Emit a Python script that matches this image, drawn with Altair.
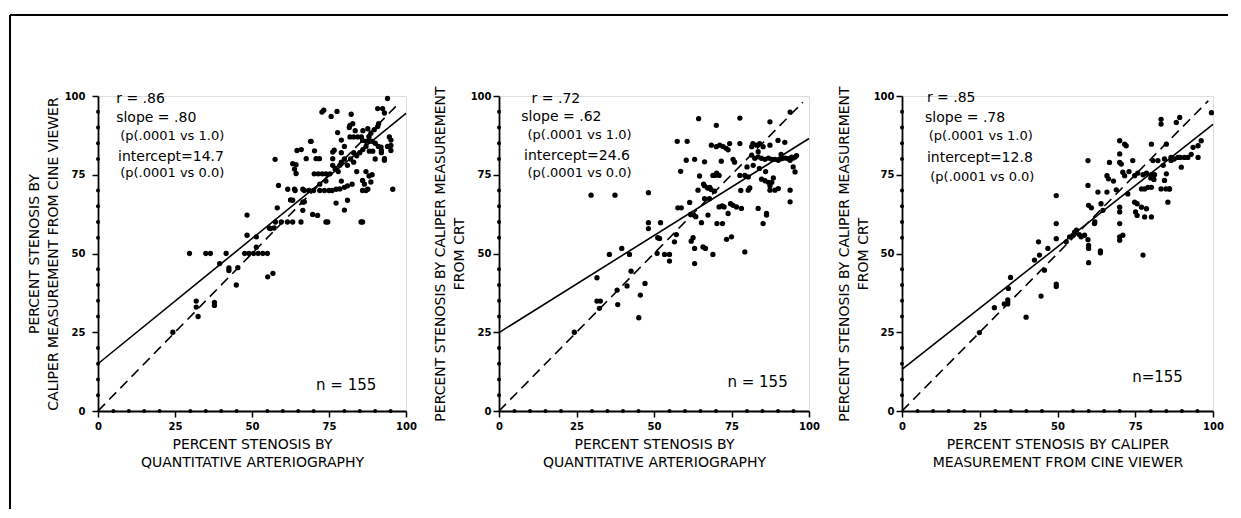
import altair as alt
import pandas as pd

# ---------------- data ----------------
# Panel 1: QCA (x) vs caliper from cine viewer (y)
x1 = [24.3, 31.9, 31.9, 32.5, 37.8, 37.8,
      29.7, 35.0, 36.5, 41.6, 47.6, 49.0, 50.5, 52.0, 53.5, 55.0,
      39.5, 42.5, 42.5, 45.4, 44.9, 48.4, 48.4, 51.4, 51.4, 55.1, 56.8, 55.6, 57.2, 56.0,
      57.5, 58.2, 58.6, 57.6, 59.5, 61.5, 63.2, 65.9, 74.0, 85.9,
      61.6, 63.8, 62.5, 63.2, 66.5, 64.3, 63.8, 64.3, 63.2, 64.6,
      66.5, 67.0, 66.5, 67.6, 69.0, 69.7, 70.8, 71.9, 70.3, 76.7,
      70.2, 71.5, 72.8, 74.0, 75.3,
      64.0, 67.0, 68.5, 70.0, 72.0, 73.5, 75.0, 76.0, 77.3, 78.5, 80.0, 81.0, 82.5,
      73.3, 75.7, 77.6, 72.7, 77.8, 74.6, 76.2, 76.2, 76.2, 77.0, 78.0, 78.5,
      80.0, 81.0, 77.3, 82.2, 82.7, 81.6, 81.8, 81.8, 83.0, 84.3, 85.5,
      80.0, 82.0, 84.0, 85.0, 86.0, 87.0, 83.0, 81.0, 79.0,
      85.4, 85.9, 87.0, 86.5, 85.9, 88.6, 87.6, 88.0, 84.0, 87.0, 89.0,
      87.0, 88.0, 89.0, 90.0, 88.1, 89.2, 91.0, 92.0,
      88.6, 89.7, 90.8, 90.8, 92.4, 94.0, 93.0, 91.1,
      93.0, 92.0, 94.6, 95.1, 95.1, 95.1, 94.0, 95.7, 91.9, 93.0, 90.0,
      83.5, 86.0, 87.6, 85.9, 88.0, 71.3, 72.0, 74.0, 79.0, 69.2, 66.0, 79.0, 80.0, 79.0, 83.0]
y1 = [25.0, 34.9, 33.0, 30.0, 34.5, 33.5,
      50.0, 50.0, 50.0, 50.0, 50.0, 50.0, 50.0, 50.0, 50.0, 50.0,
      46.8, 45.4, 44.6, 45.5, 40.0, 62.2, 55.8, 55.3, 52.0, 42.6, 43.7, 58.1, 58.1, 57.9,
      79.9, 64.5, 71.6, 60.0, 60.0, 60.0, 60.0, 60.0, 60.0, 60.0,
      70.4, 70.4, 67.0, 66.9, 66.3, 78.2, 76.8, 75.4, 78.5, 82.7,
      63.7, 66.4, 70.4, 80.1, 85.6, 62.4, 80.1, 80.1, 82.6, 82.8,
      75.3, 75.3, 75.3, 75.3, 75.3,
      70.0, 70.0, 70.0, 70.0, 70.0, 70.0, 70.0, 70.0, 70.4, 70.5, 71.0, 71.5, 72.0,
      95.5, 93.5, 95.1, 94.9, 88.4, 60.0, 82.2, 80.1, 78.0, 77.0, 76.0, 78.0,
      63.8, 66.9, 66.0, 94.2, 91.2, 90.0, 90.7, 87.0, 87.0, 87.0, 87.0,
      80.0, 80.0, 81.0, 82.0, 83.0, 84.0, 79.0, 78.0, 79.0,
      60.0, 70.0, 70.0, 72.0, 73.2, 72.7, 70.4, 74.6, 76.0, 76.0, 75.0,
      85.6, 85.6, 85.6, 85.0, 82.5, 82.5, 84.0, 82.0,
      88.2, 89.3, 90.3, 96.0, 96.0, 99.2, 94.6, 91.2,
      80.1, 82.7, 87.0, 86.0, 84.3, 82.7, 84.0, 70.4, 83.8, 79.6, 80.0,
      89.0, 89.0, 89.6, 85.9, 87.0, 62.1, 72.0, 73.0, 73.0, 85.6, 83.0, 82.0, 84.0, 86.0, 82.0]

# Panel 2: QCA (x) vs caliper from CRT (y)
x2 = [24.3, 29.7, 37.4, 48.2, 31.6, 31.6, 32.7, 32.4, 35.6, 38.3, 38.1, 39.6, 42.1, 41.3, 42.6,
      45.1, 45.6, 47.1, 48.2, 48.2, 51.2, 51.8, 52.1, 51.0, 53.4, 55.0, 55.0, 56.6, 57.2,
      57.5, 58.6, 57.7, 58.8, 60.7, 60.4, 63.1, 61.5, 61.8, 62.8, 63.5, 62.6, 62.0, 63.1, 63.1,
      64.4, 64.7, 64.2, 65.3, 65.8, 66.6, 66.3, 66.3, 67.3, 68.4, 69.5, 66.3, 67.9, 67.4, 69.0,
      69.0, 69.6, 70.1, 68.5, 70.1, 71.2, 72.3, 73.3, 73.9, 71.7, 71.0, 72.0, 72.6, 70.3, 72.1,
      73.4, 75.5, 76.0, 74.4, 75.0, 73.9, 74.7, 75.5, 76.6, 77.7, 77.7, 77.7, 79.3, 80.4, 78.2,
      79.3, 80.4,
      81.5, 82.5, 83.6, 84.7, 85.8, 86.9, 88.0, 89.0, 90.1, 91.2, 92.3, 93.3, 94.9, 95.5,
      81.5, 83.1, 85.2, 83.6, 81.9, 84.1,
      83.6, 84.7, 85.8, 86.9, 88.0, 87.4, 85.2, 86.3, 86.3, 87.4, 87.4, 87.4, 89.0, 90.1,
      90.0, 92.2, 93.9, 93.9, 93.9, 95.5, 94.9, 93.9, 94.4, 96.0,
      78.0, 80.9, 70.2, 71.0, 66.0, 68.0, 82.0, 84.0, 86.0, 88.5, 91.0, 80.0]
y2 = [25.0, 68.5, 68.5, 69.3, 42.3, 34.9, 34.9, 32.6, 49.7, 33.8, 38.4, 51.6, 49.7, 39.7, 44.4,
      29.6, 36.8, 40.5, 59.8, 57.9, 55.0, 54.8, 59.8, 50.0, 49.7, 49.7, 47.6, 53.7, 56.0,
      85.6, 76.1, 64.5, 64.5, 85.6, 79.6, 79.9, 66.2, 62.4, 62.2, 61.7, 55.0, 53.9, 51.6, 46.8,
      92.8, 74.6, 70.1, 59.8, 52.1, 51.6, 79.1, 71.5, 70.8, 70.3, 69.8, 67.4, 67.4, 62.2, 49.7,
      74.8, 74.8, 90.7, 84.4, 83.9, 84.4, 83.9, 83.4, 82.9, 79.3, 64.8, 65.1, 64.8, 59.5, 59.5,
      54.5, 79.9, 79.0, 84.9, 55.3, 62.7, 65.8, 65.3, 64.8, 93.0, 84.9, 74.8, 74.8, 74.3, 64.3,
      50.5, 70.1,
      81.2, 80.2, 80.7, 80.2, 79.9, 80.3, 79.9, 79.9, 79.6, 80.1, 80.3, 80.1, 80.3, 80.6,
      83.9, 84.4, 83.9, 82.3, 84.9, 84.9,
      64.3, 73.6, 73.1, 72.6, 72.6, 71.5, 59.5, 62.7, 62.2, 70.1, 91.8, 84.4, 70.1, 70.6,
      85.9, 85.3, 94.9, 70.1, 66.4, 75.9, 77.5, 79.6, 80.6, 81.1,
      70.0, 70.8, 75.5, 74.8, 72.0, 71.0, 78.0, 77.0, 76.0, 74.0, 81.5, 77.5]

# Panel 3: caliper from cine viewer (x) vs caliper from CRT (y)
x3 = [24.9, 29.7, 32.9, 34.0, 34.0, 34.9, 34.2, 39.9, 42.6, 43.9, 44.2, 45.8, 46.9, 44.7,
      49.6, 49.6, 49.6, 49.6, 49.6, 52.8, 53.9, 55.0, 55.5, 56.1, 57.6, 58.7,
      59.8, 59.8, 60.0, 60.9, 59.8, 60.0, 60.0, 60.0, 61.9, 63.0, 63.8, 63.8, 64.0, 64.6,
      65.9, 66.4, 65.9, 66.7, 68.9, 70.0, 70.0, 70.0, 70.5, 70.0, 70.0, 70.0, 70.0, 70.0,
      71.0, 71.6, 72.1, 71.0, 71.6, 72.6, 74.2,
      74.8, 75.8, 77.5, 78.6, 80.2, 81.2,
      74.8, 75.6, 75.1, 75.6, 77.5,
      77.0, 78.0, 79.1, 80.2,
      77.0, 78.6, 78.0, 80.2, 80.2, 80.7, 83.3, 83.3, 85.0,
      82.3, 84.4, 86.5, 88.7, 90.8, 86.5, 87.5, 89.5,
      85.0, 84.4, 83.3, 84.9, 86.0, 85.5, 88.2, 89.3, 89.8, 91.9, 93.0, 93.6, 95.2, 96.2,
      95.2, 99.5, 80.0, 81.0, 84.0, 86.0, 73.0, 68.0, 62.0, 57.0]
y3 = [24.9, 32.8, 34.0, 35.3, 34.0, 42.4, 38.9, 29.8, 47.9, 53.7, 49.5, 44.7, 51.6, 36.5,
      54.7, 59.5, 68.4, 40.3, 39.5, 53.7, 55.3, 55.8, 56.8, 57.4, 55.3, 55.8,
      79.5, 71.6, 65.3, 64.5, 54.4, 52.6, 51.6, 47.1, 59.5, 69.5, 50.8, 50.2, 65.8, 63.7,
      74.7, 73.7, 69.5, 78.9, 70.2, 85.8, 81.6, 78.9, 78.4, 64.7, 63.2, 59.5, 55.3, 54.2,
      55.8, 84.7, 84.2, 75.8, 74.7, 68.9, 79.5,
      74.7, 75.5, 75.0, 75.5, 75.0, 75.0,
      66.3, 65.8, 63.2, 62.1, 49.5,
      70.5, 70.5, 71.0, 71.0,
      64.7, 64.2, 61.6, 61.6, 84.7, 79.5, 92.6, 91.1, 84.7,
      79.5, 80.0, 80.5, 80.5, 80.5, 79.5, 80.0, 80.5,
      75.3, 73.2, 70.5, 70.5, 70.5, 66.3, 91.6, 93.2, 77.4, 80.5, 81.5, 83.7, 84.2, 85.8,
      80.5, 94.7, 74.0, 73.5, 78.0, 70.5, 76.0, 73.0, 60.0, 56.0]

# regression (solid) and identity (dashed) line end points
reg1_x, reg1_y = [0, 100], [15.0, 94.5]
reg2_x, reg2_y = [0, 100], [24.9, 86.5]
reg3_x, reg3_y = [0, 100], [13.2, 91.0]
id1_x, id1_y = [0, 98], [0, 98]
id2_x, id2_y = [0, 98], [0, 98]
id3_x, id3_y = [0, 98.5], [0, 98.5]

# statistics text
notes1 = ["r = .86", "slope = .80", "(p(.0001 vs 1.0)", "intercept=14.7", "(p(.0001 vs 0.0)"]
notes2 = ["r = .72", "slope = .62", "(p(.0001 vs 1.0)", "intercept=24.6", "(p(.0001 vs 0.0)"]
notes3 = ["r = .85", "slope = .78", "(p(.0001 vs 1.0)", "intercept=12.8", "(p(.0001 vs 0.0)"]
n_labels = ["n = 155", "n = 155", "n=155"]

xtitles = [["PERCENT STENOSIS BY", "QUANTITATIVE ARTERIOGRAPHY"],
           ["PERCENT STENOSIS BY", "QUANTITATIVE ARTERIOGRAPHY"],
           ["PERCENT STENOSIS BY CALIPER", "MEASUREMENT FROM CINE VIEWER"]]
ytitles = [["PERCENT STENOSIS BY", "CALIPER MEASUREMENT FROM CINE VIEWER"],
           ["PERCENT STENOSIS BY CALIPER MEASUREMENT", "FROM CRT"],
           ["PERCENT STENOSIS BY CALIPER MEASUREMENT", "FROM CRT"]]

major_ticks = [0, 25, 50, 75, 100]
minor_ticks = [5.0, 10.0, 15.0, 20.0, 30.0, 35.0, 40.0, 45.0, 55.0, 60.0,
               65.0, 70.0, 80.0, 85.0, 90.0, 95.0]
axis_zero = [0.0] * len(minor_ticks)

# ---------------- chart ----------------
FONT = "DejaVu Sans"
BLACK = "#000000"


def panel(xs, ys, rx, ry, ix, iy, notes, n_label, xtitle, ytitle,
          width, ylab_pad, ytitle_pad, note_pos, n_pos, frame=False):
    scale = alt.Scale(domain=[0, 100], nice=False, zero=False)
    X = alt.X("x:Q", scale=scale, axis=alt.Axis(
        values=major_ticks, grid=False, title=xtitle, tickSize=6, tickWidth=1.5,
        tickColor=BLACK, domainColor=BLACK, domainWidth=1.8,
        labelFont=FONT, labelFontWeight="bold", labelFontSize=10, labelColor=BLACK,
        labelPadding=4, labelFlush=False,
        titleFont=FONT, titleFontSize=14, titleFontWeight="normal", titleColor=BLACK,
        titlePadding=6, titleLineHeight=18))
    Y = alt.Y("y:Q", scale=scale, axis=alt.Axis(
        values=major_ticks, grid=False, title=ytitle, tickSize=6, tickWidth=1.5,
        tickColor=BLACK, domainColor=BLACK, domainWidth=1.8,
        labelFont=FONT, labelFontWeight="bold", labelFontSize=10, labelColor=BLACK,
        labelPadding=ylab_pad, labelFlush=False,
        titleFont=FONT, titleFontSize=14, titleFontWeight="normal", titleColor=BLACK,
        titlePadding=ytitle_pad, titleLineHeight=19))

    # little tick dots every 5 units sitting on the axis lines
    xt = alt.Chart(pd.DataFrame({"x": minor_ticks, "y": axis_zero})).mark_circle(
        size=16, color=BLACK, opacity=1).encode(x=X, y=Y)
    yt = alt.Chart(pd.DataFrame({"x": axis_zero, "y": minor_ticks})).mark_circle(
        size=16, color=BLACK, opacity=1).encode(x=X, y=Y)

    pts = alt.Chart(pd.DataFrame({"x": xs, "y": ys})).mark_circle(
        size=28, color=BLACK, opacity=1).encode(x=X, y=Y)
    reg = alt.Chart(pd.DataFrame({"x": rx, "y": ry})).mark_line(
        color=BLACK, strokeWidth=1.6).encode(x=X, y=Y)
    ident = alt.Chart(pd.DataFrame({"x": ix, "y": iy})).mark_line(
        color=BLACK, strokeWidth=1.6, strokeDash=[10, 6]).encode(x=X, y=Y)

    layers = [pts, xt, yt, ident, reg]
    sizes = [14, 14, 13, 14, 13]
    for s, (px, py), fs in zip(notes, note_pos, sizes):
        layers.append(alt.Chart(pd.DataFrame({"t": [s]})).mark_text(
            align="left", baseline="middle", font=FONT, fontSize=fs, color=BLACK
        ).encode(x=alt.datum(px), y=alt.datum(py), text="t:N"))
    layers.append(alt.Chart(pd.DataFrame({"t": [n_label]})).mark_text(
        align="left", baseline="middle", font=FONT, fontSize=15, color=BLACK
    ).encode(x=alt.datum(n_pos[0]), y=alt.datum(n_pos[1]), text="t:N"))

    if frame:
        one = pd.DataFrame({"k": [0]})
        layers.append(alt.Chart(one).mark_rule(color=BLACK, strokeWidth=2).encode(
            x=alt.value(-88), x2=alt.value(1130), y=alt.value(-81)))
        layers.append(alt.Chart(one).mark_rule(color=BLACK, strokeWidth=2).encode(
            x=alt.value(-88), y=alt.value(-81), y2=alt.value(413)))

    return alt.layer(*layers).properties(width=width, height=315)


p1 = panel(x1, y1, reg1_x, reg1_y, id1_x, id1_y, notes1, n_labels[0], xtitles[0], ytitles[0],
           308, 7, 4,
           [(5.9, 98.9), (5.9, 93.0), (7.2, 87.3), (6.5, 80.7), (7.2, 75.4)], (70.8, 8.2), frame=True)
p2 = panel(x2, y2, reg2_x, reg2_y, id2_x, id2_y, notes2, n_labels[1], xtitles[1], ytitles[1],
           310, 2, 4,
           [(10.5, 99.2), (7.2, 93.3), (9.2, 87.5), (8.1, 81.0), (9.2, 75.4)], (73.7, 9.3))
p3 = panel(x3, y3, reg3_x, reg3_y, id3_x, id3_y, notes3, n_labels[2], xtitles[2], ytitles[2],
           311, 2, 3,
           [(8.0, 99.3), (7.4, 92.9), (8.6, 87.4), (8.0, 80.3), (9.1, 74.4)], (74.0, 10.8))

chart = alt.hconcat(p1, p2, p3, spacing=93, bounds="flush").properties(
    padding={"left": 0, "top": 5, "right": 0, "bottom": 0}
).configure_view(stroke=None).configure(background="white")

chart.save("out.html", embed_options={"renderer": "svg", "actions": False})
